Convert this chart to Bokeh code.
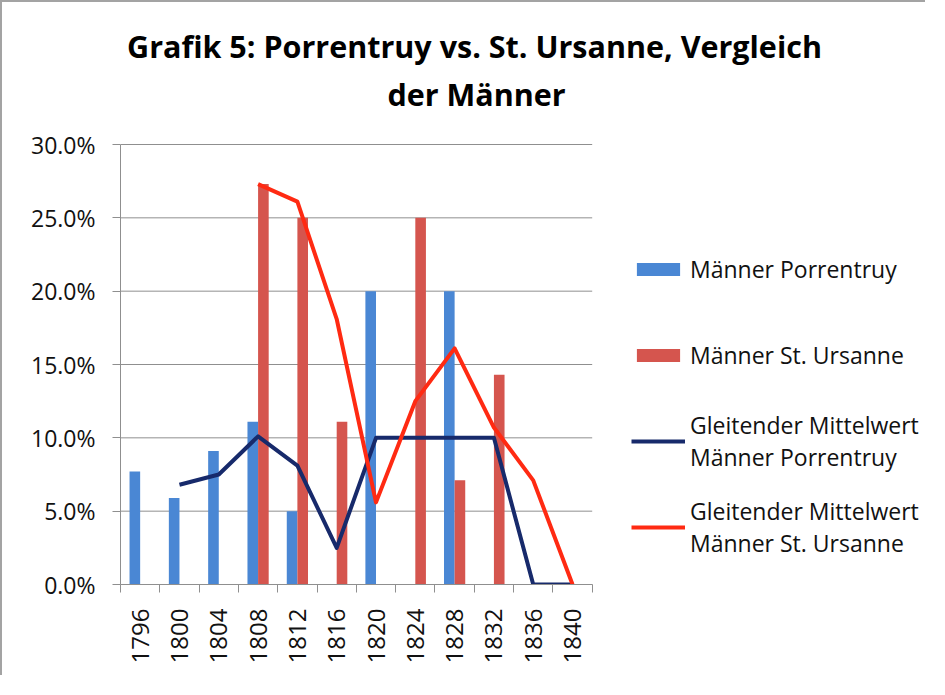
import math
from bokeh.plotting import figure
from bokeh.models import (Range1d, FixedTicker, PrintfTickFormatter, Legend, LegendItem,
                          Label, ColumnDataSource)
from bokeh.transform import dodge
from bokeh.embed import file_html
from bokeh.resources import INLINE

nan = float("nan")

# ---- data (percent) ----
years = ["1796", "1800", "1804", "1808", "1812", "1816", "1820", "1824", "1828", "1832", "1836", "1840"]
maenner_porrentruy = [7.7, 5.9, 9.1, 11.1, 5.0, 0.0, 20.0, 0.0, 20.0, 0.0, 0.0, 0.0]
maenner_st_ursanne = [0.0, 0.0, 0.0, 27.3, 25.0, 11.1, 0.0, 25.0, 7.1, 14.3, 0.0, 0.0]
mittel_porrentruy = [nan, 6.8, 7.5, 10.1, 8.1, 2.5, 10.0, 10.0, 10.0, 10.0, 0.0, 0.0]
mittel_st_ursanne = [nan, nan, nan, 27.3, 26.1, 18.1, 5.6, 12.5, 16.1, 10.7, 7.1, 0.0]
y_ticks = [0, 5, 10, 15, 20, 25, 30]

title_line1 = "Grafik 5: Porrentruy vs. St. Ursanne, Vergleich"
title_line2 = "der Männer"

FONT = "Open Sans"
GRID = "#8f8f8f"

# ---- layout (pixels) ----
W, H = 925, 675
LEFT = 118            # y axis position
AXIS_Y = 582          # x axis position (from top)
PLOT_W = 471.7        # width of the category area
PLOT_H = 440.0        # height of 0..30 %
n = len(years)
frame_w = W - LEFT
x_end = -0.5 + frame_w / (PLOT_W / n)
y_end = y_ticks[-1] * AXIS_Y / PLOT_H

idx = list(range(n))
src = ColumnDataSource(dict(x=idx, por=maenner_porrentruy, urs=maenner_st_ursanne,
                            mpor=mittel_porrentruy, murs=mittel_st_ursanne))

p = figure(width=W, height=H, output_backend="svg", toolbar_location=None,
           x_range=Range1d(-0.5, x_end), y_range=Range1d(0, y_end),
           min_border_left=LEFT, min_border_right=0, min_border_top=0,
           min_border_bottom=H - AXIS_Y)
p.styles = {"border-left": "2px solid #a3a3a3", "border-top": "2px solid #a3a3a3"}
p.outline_line_color = None
p.xgrid.visible = False
p.ygrid.visible = False

# horizontal gridlines across the category area
p.segment(x0=[-0.5] * len(y_ticks), x1=[n - 0.5] * len(y_ticks), y0=y_ticks, y1=y_ticks,
          line_color=GRID, line_width=1)

bw = 0.27
b1 = p.vbar(x=dodge("x", -bw / 2, range=p.x_range), top="por", width=bw, source=src,
            fill_color="#4a87d4", line_color=None)
b2 = p.vbar(x=dodge("x", bw / 2, range=p.x_range), top="urs", width=bw, source=src,
            fill_color="#d5554e", line_color=None)
l1 = p.line("x", "mpor", source=src, line_color="#172a6b", line_width=4, line_join="round")
l2 = p.line("x", "murs", source=src, line_color="#ff2a12", line_width=4, line_join="round")

xa = p.xaxis[0]
xa.bounds = (-0.5, n - 0.5)
xa.ticker = FixedTicker(ticks=idx, minor_ticks=[i - 0.5 for i in range(n + 1)])
xa.major_label_overrides = {i: y for i, y in enumerate(years)}
xa.major_label_orientation = math.pi / 2
xa.major_tick_out = 0
xa.major_tick_in = 0
xa.minor_tick_out = 8
xa.minor_tick_in = 0
xa.minor_tick_line_color = GRID
xa.axis_line_color = GRID
xa.major_label_text_font = FONT
xa.major_label_text_font_size = "24px"
xa.major_label_text_color = "#111111"
xa.major_label_standoff = 16

ya = p.yaxis[0]
ya.bounds = (0, y_ticks[-1])
ya.ticker = FixedTicker(ticks=y_ticks)
ya.formatter = PrintfTickFormatter(format="%.1f%%")
ya.major_tick_out = 8
ya.major_tick_in = 0
ya.minor_tick_out = 0
ya.minor_tick_in = 0
ya.major_tick_line_color = GRID
ya.axis_line_color = GRID
ya.major_label_text_font = FONT
ya.major_label_text_font_size = "23px"
ya.major_label_text_color = "#111111"
ya.major_label_standoff = 17

# title (two centred lines, inside the frame so nothing is clipped)
for txt, xx, yy in [(title_line1, 354, 539), (title_line2, 356, 491)]:
    p.add_layout(Label(x=xx, y=yy, x_units="screen", y_units="screen", text=txt,
                       text_align="center", text_baseline="alphabetic",
                       text_font=FONT, text_font_style="bold",
                       text_font_size="30.5px", text_color="black"))

legend = Legend(items=[
    LegendItem(label="Männer Porrentruy", renderers=[b1]),
    LegendItem(label="Männer St. Ursanne", renderers=[b2]),
    LegendItem(label="Gleitender Mittelwert\nMänner Porrentruy", renderers=[l1]),
    LegendItem(label="Gleitender Mittelwert\nMänner St. Ursanne", renderers=[l2]),
], location=(511, 24))
legend.border_line_color = None
legend.background_fill_alpha = 0
legend.padding = 0
legend.margin = 0
legend.spacing = 20
legend.label_height = 66
legend.glyph_width = 54
legend.glyph_height = 16
legend.label_standoff = 5
legend.label_text_font = FONT
legend.label_text_font_size = "23px"
legend.label_text_line_height = 1.43
legend.label_text_color = "#111111"
p.add_layout(legend, "center")

open("out.html", "w").write(file_html(p, INLINE))
